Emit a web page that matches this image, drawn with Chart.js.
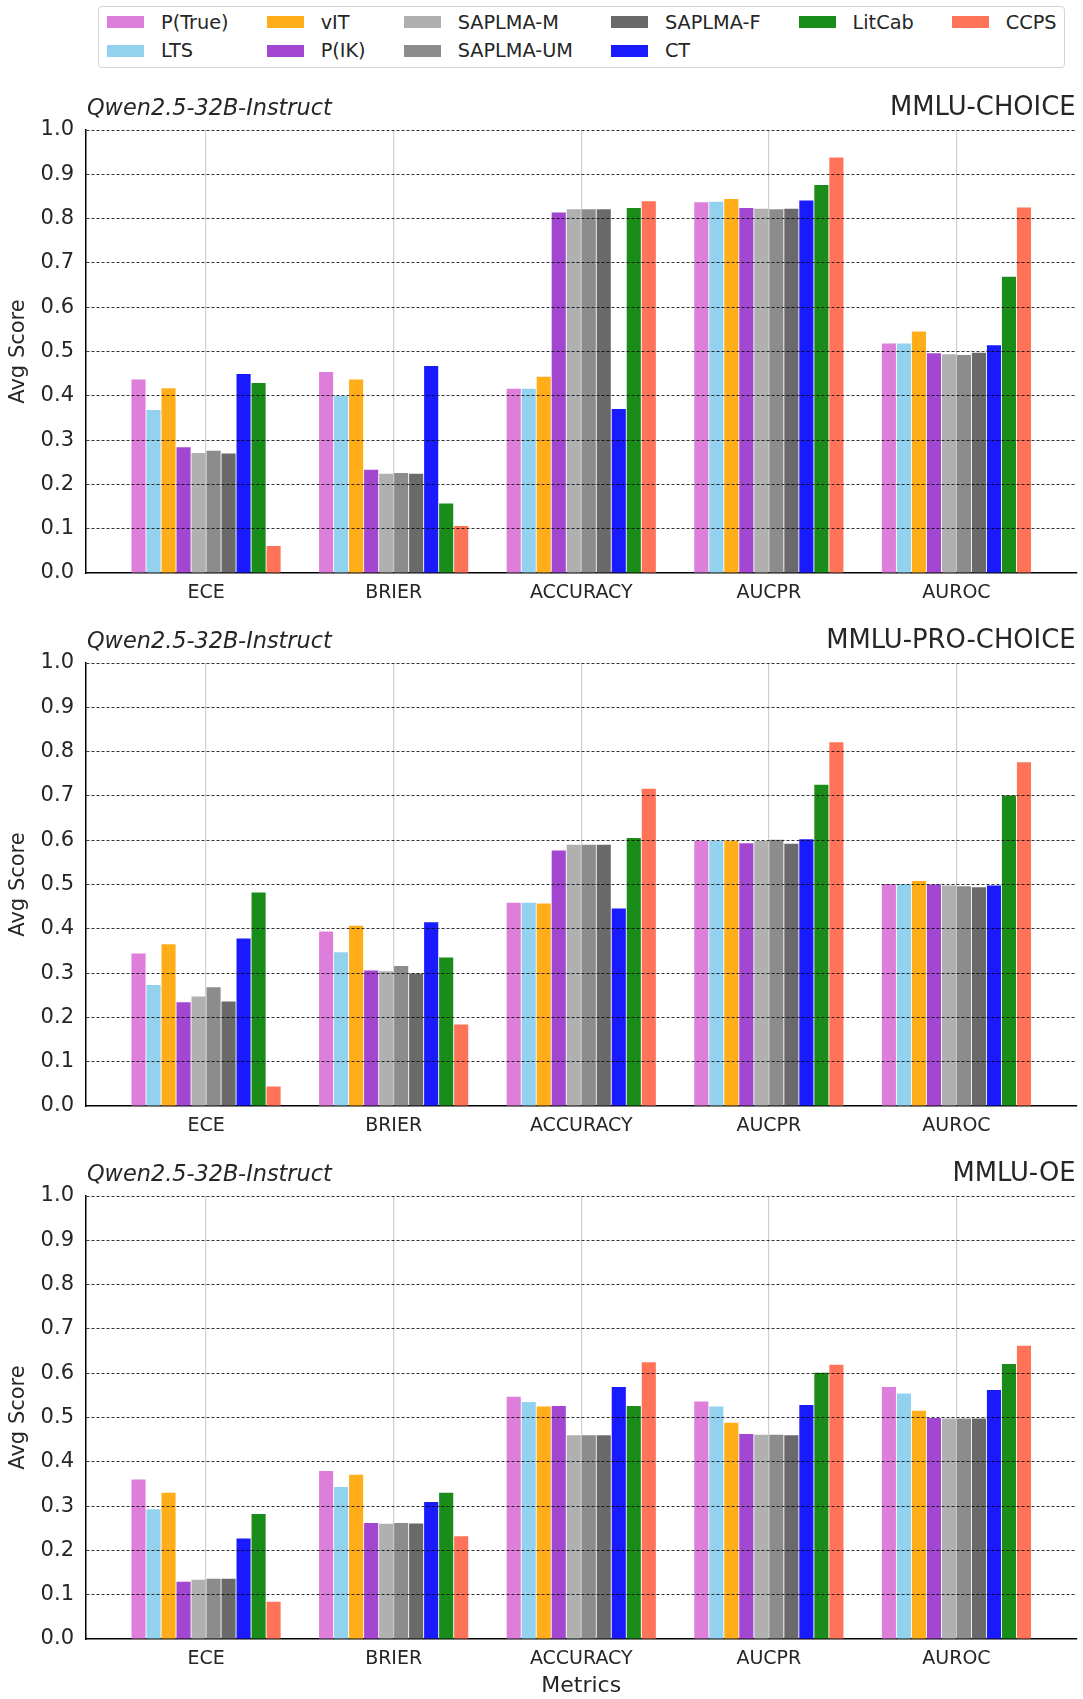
<!DOCTYPE html>
<html lang="en">
<head>
<meta charset="UTF-8">
<title>Avg scores per metric - Qwen2.5-32B-Instruct</title>
<script src="https://cdn.jsdelivr.net/npm/chart.js"></script>
<style>
  body {
    margin: 0;
    background: #fff;
    font-family: 'DejaVu Sans', sans-serif;
    color: #262626;
  }
  #page {
    position: relative;
    width: 1083px;
    height: 1699px;
    overflow: hidden;
  }
  #legend {
    position: absolute;
    left: 98px;
    top: 6px;
    width: 967px;
    height: 62px;
    box-sizing: border-box;
    border: 1px solid #d4d4d4;
    border-radius: 4px;
    padding: 1px 0 0 8px;
    display: grid;
    grid-template-rows: 28.5px 28.5px;
    justify-content: start;
    column-gap: 38px;
    font-size: 19.3px;
  }
  .item { display: flex; align-items: center; white-space: nowrap; }
  .swatch { width: 37px; height: 12px; margin-right: 17px; }
  canvas { position: absolute; left: 0; }
</style>
</head>
<body>
<div id="page">
  <div id="legend"></div>
  <canvas id="chartChoice" width="1083" height="538" style="top:75px"></canvas>
  <canvas id="chartPro" width="1083" height="533" style="top:613px"></canvas>
  <canvas id="chartOe" width="1083" height="553" style="top:1146px"></canvas>
</div>
<script>
const metrics = ['ECE', 'BRIER', 'ACCURACY', 'AUCPR', 'AUROC'];
const methods = ['P(True)', 'LTS', 'vIT', 'P(IK)', 'SAPLMA-M', 'SAPLMA-UM', 'SAPLMA-F', 'CT', 'LitCab', 'CCPS'];
const methodColors = ['#de7edb', '#93d2ee', '#ffae1a', '#a346d1', '#b0b0b0',
                      '#8c8c8c', '#6a6a6a', '#1a1aff', '#1a8c1a', '#ff7359'];
const scoreTicks = [0, 0.1, 0.2, 0.3, 0.4, 0.5, 0.6, 0.7, 0.8, 0.9, 1.0];
const modelName = 'Qwen2.5-32B-Instruct';

// one row per method (same order as `methods`), columns follow `metrics`
const mmluChoice = [
  [0.437, 0.454, 0.416, 0.837, 0.518],
  [0.368, 0.400, 0.416, 0.838, 0.518],
  [0.417, 0.437, 0.443, 0.844, 0.545],
  [0.284, 0.233, 0.814, 0.824, 0.496],
  [0.271, 0.224, 0.821, 0.822, 0.494],
  [0.276, 0.226, 0.821, 0.821, 0.492],
  [0.270, 0.224, 0.821, 0.822, 0.497],
  [0.449, 0.467, 0.370, 0.841, 0.514],
  [0.429, 0.157, 0.824, 0.876, 0.669],
  [0.061, 0.106, 0.839, 0.938, 0.825]
];
const mmluProChoice = [
  [0.344, 0.394, 0.459, 0.599, 0.501],
  [0.273, 0.347, 0.459, 0.599, 0.501],
  [0.365, 0.407, 0.457, 0.599, 0.508],
  [0.234, 0.306, 0.577, 0.593, 0.500],
  [0.247, 0.304, 0.590, 0.598, 0.498],
  [0.268, 0.316, 0.590, 0.601, 0.496],
  [0.236, 0.299, 0.590, 0.592, 0.494],
  [0.378, 0.415, 0.446, 0.602, 0.498],
  [0.482, 0.335, 0.605, 0.725, 0.701],
  [0.044, 0.184, 0.716, 0.821, 0.776]
];
const mmluOe = [
  [0.360, 0.379, 0.547, 0.536, 0.569],
  [0.293, 0.343, 0.535, 0.525, 0.554],
  [0.330, 0.371, 0.525, 0.488, 0.515],
  [0.129, 0.262, 0.526, 0.463, 0.499],
  [0.134, 0.260, 0.460, 0.461, 0.498],
  [0.136, 0.262, 0.460, 0.461, 0.498],
  [0.136, 0.261, 0.460, 0.460, 0.498],
  [0.227, 0.309, 0.569, 0.528, 0.562],
  [0.282, 0.330, 0.526, 0.601, 0.621],
  [0.084, 0.232, 0.625, 0.619, 0.662]
];

const FONT = "'DejaVu Sans', sans-serif";
const TEXT = '#262626';

// shared legend, filled column by column like matplotlib with ncol=6
const legendEl = document.getElementById('legend');
const ncol = 6;
const perCol = [];
for (let c = 0; c < ncol; c++) {
  perCol.push(Math.floor(methods.length / ncol) + (c < methods.length % ncol ? 1 : 0));
}
let idx = 0;
perCol.forEach((count, c) => {
  for (let r = 0; r < count; r++, idx++) {
    const item = document.createElement('div');
    item.className = 'item';
    item.style.gridColumn = String(c + 1);
    item.style.gridRow = String(r + 1);
    item.innerHTML = '<span class="swatch" style="background:' + methodColors[idx] + '"></span>' + methods[idx];
    legendEl.appendChild(item);
  }
});

// model name on the left, dataset on the right, above the plot area
const panelTitlePlugin = {
  id: 'panelTitles',
  afterDraw(chart, args, opts) {
    const { ctx, chartArea } = chart;
    ctx.save();
    ctx.fillStyle = TEXT;
    ctx.textBaseline = 'alphabetic';
    ctx.font = 'italic 22.4px ' + FONT;
    ctx.textAlign = 'left';
    ctx.fillText(opts.left, chartArea.left + 1, chartArea.top - 15);
    ctx.font = '25.8px ' + FONT;
    ctx.textAlign = 'right';
    ctx.fillText(opts.right, chartArea.right - 1, chartArea.top - 15);
    ctx.restore();
  }
};

function drawPanel(canvasId, datasetName, scores, padTop, xHeight, xTitle) {
  const datasets = methods.map((name, m) => ({
    label: name,
    data: scores[m].map((v, i) => ({ x: i, y: v })),
    backgroundColor: methodColors[m],
    borderWidth: 0,
    categoryPercentage: 0.8,
    barPercentage: 0.94
  }));

  return new Chart(document.getElementById(canvasId), {
    type: 'bar',
    data: { datasets },
    options: {
      responsive: false,
      animation: false,
      events: [],
      layout: { padding: { top: padTop, right: 6.5, bottom: 0, left: 0 } },
      plugins: {
        legend: { display: false },
        tooltip: { enabled: false },
        panelTitles: { left: modelName, right: datasetName }
      },
      scales: {
        x: {
          type: 'linear',
          min: -0.64,
          max: 4.64,
          offset: false,
          grid: { offset: false, color: '#d0d0d0', lineWidth: 1.2, drawTicks: false },
          border: { color: '#000', width: 1.5 },
          ticks: {
            padding: 9,
            color: TEXT,
            font: { family: FONT, size: 19 },
            maxRotation: 0,
            autoSkip: false,
            callback: (v) => metrics[v]
          },
          afterBuildTicks: (s) => { s.ticks = metrics.map((m, i) => ({ value: i })); },
          afterFit: (s) => { s.height = xHeight; },
          title: {
            display: !!xTitle,
            text: xTitle || '',
            color: TEXT,
            font: { family: FONT, size: 22 },
            padding: { top: 0, bottom: 0 }
          }
        },
        y: {
          min: 0,
          max: 1,
          afterBuildTicks: (s) => { s.ticks = scoreTicks.map(v => ({ value: v })); },
          afterFit: (s) => { s.width = 86; },
          ticks: {
            padding: 12,
            color: TEXT,
            font: { family: FONT, size: 21 },
            callback: (v) => v.toFixed(1)
          },
          // dashed horizontal lines sit on top of the bars, like the original
          grid: {
            z: 1,
            drawTicks: false,
            lineWidth: 1,
            color: (c) => (c.tick && c.tick.value === 0) ? 'rgba(0,0,0,0)' : 'rgba(0,0,0,0.8)'
          },
          border: { color: '#000', width: 1.5, dash: [3, 2], z: 1 },
          title: {
            display: true,
            text: 'Avg Score',
            color: TEXT,
            font: { family: FONT, size: 21 },
            padding: { top: 6, bottom: 0 }
          }
        }
      }
    },
    plugins: [panelTitlePlugin]
  });
}

drawPanel('chartChoice', 'MMLU-CHOICE', mmluChoice, 55, 40);
drawPanel('chartPro', 'MMLU-PRO-CHOICE', mmluProChoice, 50, 40);
drawPanel('chartOe', 'MMLU-OE', mmluOe, 50, 60, 'Metrics');
</script>
</body>
</html>
